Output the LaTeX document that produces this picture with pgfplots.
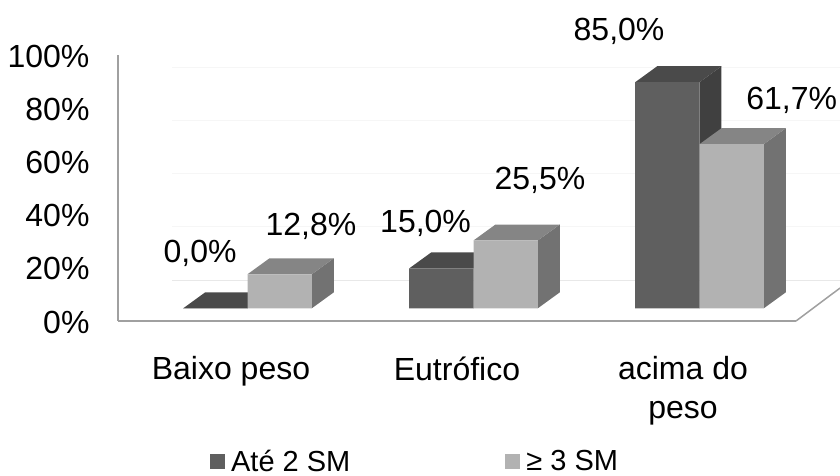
\documentclass[border=0pt]{standalone}
\usepackage{fontspec}
\setmainfont{Liberation Sans}
\usepackage{pgfplots}
\pgfplotsset{compat=1.18}
\definecolor{axisline}{HTML}{A0A0A0}
\definecolor{darkfront}{HTML}{5F5F5F}
\definecolor{darktop}{HTML}{4A4A4A}
\definecolor{darkside}{HTML}{404040}
\definecolor{lightfront}{HTML}{B2B2B2}
\definecolor{lighttop}{HTML}{858585}
\definecolor{lightside}{HTML}{727272}
\newcommand{\chartfont}{\fontsize{32}{39}\selectfont}
% Receding faces of one bar: left edge, right edge, value, top colour, side colour
\newcommand{\depthfaces}[5]{%
  \pgfmathsetmacro{\xa}{#1+0.0973}%
  \pgfmathsetmacro{\xb}{#2+0.0973}%
  \pgfmathsetmacro{\yb}{#3+6}%
  \addplot[forget plot,fill=#5,draw=none] coordinates {(#2,0) (\xb,6) (\xb,\yb) (#2,#3)} --cycle;
  \addplot[forget plot,fill=#4,draw=none] coordinates {(#1,#3) (#2,#3) (\xb,\yb) (\xa,\yb)} --cycle;
}
\begin{document}
\begin{tikzpicture}[x=1pt,y=1pt]
\useasboundingbox (0,0) rectangle (840,476);
% Wall and floor outline with the tick labels
\begin{axis}[
  at={(118pt,155pt)},anchor=south west,
  scale only axis,width=678pt,height=266pt,
  xmin=-0.5,xmax=2.5,ymin=0,ymax=100,
  clip=false,
  axis x line*=bottom,axis y line*=left,
  axis line style={draw=axisline,line width=1.8pt,-},
  tick style={draw=none},
  xtick={0,1,2},
  xticklabels={Baixo peso,Eutrófico,{acima do\\peso}},
  x tick label style={font=\chartfont,align=center,anchor=north,yshift=-32pt},
  ytick={0,20,40,60,80,100},
  yticklabels={0\%,20\%,40\%,60\%,80\%,100\%},
  y tick label style={font=\chartfont,anchor=east,xshift=-25pt,yshift=-1pt},
]
\addplot[axisline,line width=1.5pt,forget plot] coordinates {(2.5,0) (2.695,12.4)};
\addplot[color={rgb,255:red,232;green,232;blue,232},line width=0.8pt,forget plot] coordinates {(-0.26,15.4) (2.695,15.4)};
\addplot[color={rgb,255:red,246;green,246;blue,246},line width=0.8pt,forget plot] coordinates {(-0.26,35.4) (2.695,35.4)};
\addplot[color={rgb,255:red,246;green,246;blue,246},line width=0.8pt,forget plot] coordinates {(-0.26,55.4) (2.695,55.4)};
\addplot[color={rgb,255:red,246;green,246;blue,246},line width=0.8pt,forget plot] coordinates {(-0.26,75.4) (2.695,75.4)};
\addplot[color={rgb,255:red,246;green,246;blue,246},line width=0.8pt,forget plot] coordinates {(-0.26,95.4) (2.695,95.4)};
\end{axis}
% Bars
\begin{axis}[
  at={(134.5pt,167.7pt)},anchor=south west,
  scale only axis,width=678pt,height=266pt,
  xmin=-0.5,xmax=2.5,ymin=0,ymax=100,
  clip=false,hide axis,
  legend cell align=left,
  legend columns=2,
  legend style={
    at={(0.1115,-0.5755)},anchor=west,draw=none,fill=none,
    font=\fontsize{29}{29}\selectfont,inner sep=0pt,outer sep=0pt,
    /tikz/every odd column/.append style={column sep=4pt},
    /tikz/every even column/.append style={column sep=153pt},
  },
  legend image code/.code={\fill[#1,draw=none] (0pt,-7.5pt) rectangle (15pt,7.5pt);},
]
\depthfaces{-0.2845}{0}{0}{darktop}{darkside}
\depthfaces{0.7155}{1}{15}{darktop}{darkside}
\depthfaces{1.7155}{2}{85}{darktop}{darkside}
\addplot[ybar,bar width=64.3pt,bar shift=-32.15pt,fill=darkfront,draw=none] coordinates {(0,0) (1,15) (2,85)};
\addlegendentry{Até 2 SM}
\depthfaces{0}{0.2845}{12.8}{lighttop}{lightside}
\depthfaces{1}{1.2845}{25.5}{lighttop}{lightside}
\depthfaces{2}{2.2845}{61.7}{lighttop}{lightside}
\addplot[ybar,bar width=64.3pt,bar shift=32.15pt,fill=lightfront,draw=none] coordinates {(0,12.8) (1,25.5) (2,61.7)};
\addlegendentry{≥ 3 SM}
\node[anchor=base,font=\chartfont] at (axis cs:-0.21,17.1) {0,0\%};
\node[anchor=base,font=\chartfont] at (axis cs:0.281,27.2) {12,8\%};
\node[anchor=base,font=\chartfont] at (axis cs:0.788,28.4) {15,0\%};
\node[anchor=base,font=\chartfont] at (axis cs:1.294,44.8) {25,5\%};
\node[anchor=base,font=\chartfont] at (axis cs:1.644,100.5) {85,0\%};
\node[anchor=base,font=\chartfont] at (axis cs:2.408,74.9) {61,7\%};
\end{axis}
\end{tikzpicture}
\end{document}
